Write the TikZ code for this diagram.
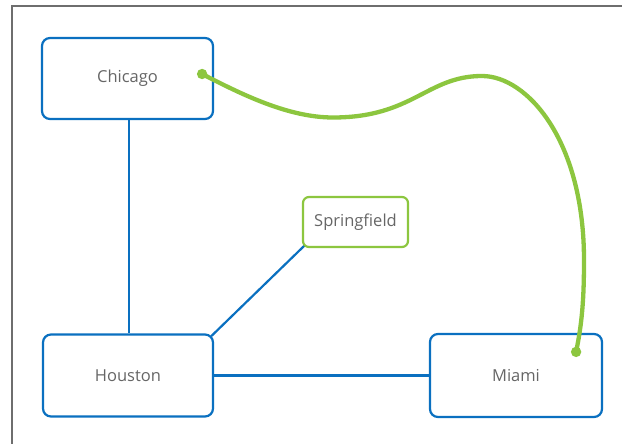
\documentclass[tikz,border=0pt]{standalone}
\usepackage{fontspec}
\setmainfont{Open Sans}
\usetikzlibrary{backgrounds}
\definecolor{cityblue}{HTML}{0A70C0}
\definecolor{routegreen}{HTML}{8CC63F}
\definecolor{labelgray}{HTML}{666666}
\definecolor{framegray}{HTML}{6E6E6E}
\tikzset{
  city/.style={draw=cityblue, line width=2.2pt, fill=white, rounded corners=8pt,
    text=labelgray, font=\fontsize{16.5}{18}\selectfont, inner sep=0pt},
  town/.style={draw=routegreen, line width=2.2pt, fill=white, rounded corners=6pt,
    text=labelgray, font=\fontsize{16.5}{18}\selectfont, inner sep=0pt},
  road/.style={draw=cityblue, line width=2.2pt},
  route/.style={draw=routegreen, line width=4.3pt},
  stop/.style={fill=routegreen}
}
\begin{document}
\begin{tikzpicture}[x=1pt, y=-1pt]
  \useasboundingbox (0,0) rectangle (622,444);
  % outer frame (open on right and bottom)
  \draw[framegray, line width=2pt] (12,444) -- (12,6) -- (622,6);

  % cities
  \node[city, minimum width=171pt, minimum height=81pt] (chicago) at (127.5,78.5) {Chicago};
  \node[city, minimum width=170pt, minimum height=82pt] (houston) at (128,375.5) {Houston};
  \node[city, minimum width=172pt, minimum height=83pt] (miami) at (516,375.5) {Miami};
  \node[town, minimum width=105pt, minimum height=50pt] (springfield) at (355.5,222) {Springfield};

  % roads (behind the boxes, so corner ends meet the rounded borders)
  \begin{scope}[on background layer]
    \draw[road] (chicago.south -| 129,0) -- (houston.north -| 129,0);
    \draw[road, shorten <=-4pt, shorten >=-4pt] (springfield.south west) -- (houston.north east);
    \draw[road] (houston.east) -- (miami.west);
  \end{scope}

  % green route between Chicago and Miami
  \coordinate (rstart) at ([shift={(-12,-4.5)}]chicago.east);
  \coordinate (rend) at ([shift={(-27,19)}]miami.north east);
  \draw[route] (rstart)
    .. controls (241,94) and (288,117.5) .. (333,117.5)
    .. controls (413,117.5) and (427,76) .. (482,76)
    .. controls (527,76) and (584,140) .. (584,260)
    .. controls (584,300) and (582,323) .. (rend);
  \fill[stop] (rstart) circle (5.2pt);
  \fill[stop] (rend) circle (5.2pt);
\end{tikzpicture}
\end{document}
